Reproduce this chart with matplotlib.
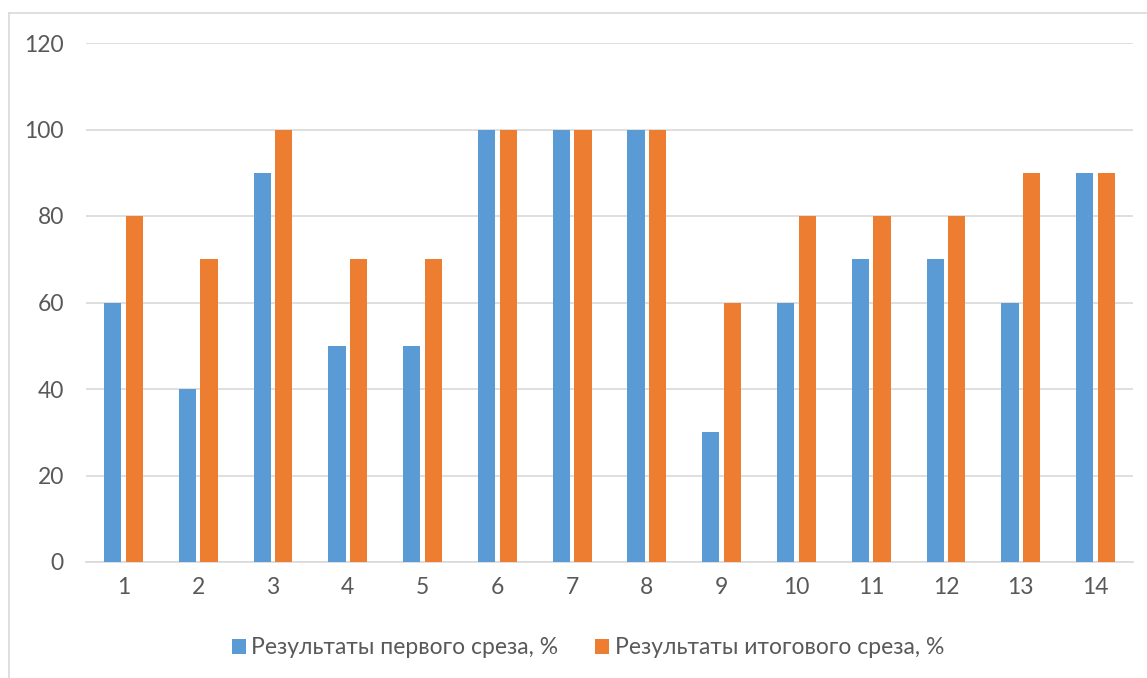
import matplotlib
matplotlib.use("Agg")
import matplotlib.pyplot as plt
import numpy as np
from matplotlib.lines import Line2D

categories = ["1", "2", "3", "4", "5", "6", "7", "8", "9", "10", "11", "12", "13", "14"]
first_cut = [60, 40, 90, 50, 50, 100, 100, 100, 30, 60, 70, 70, 60, 90]
final_cut = [80, 70, 100, 70, 70, 100, 100, 100, 60, 80, 80, 80, 90, 90]
series_names = ["Результаты первого среза, %", "Результаты итогового среза, %"]
yticks = [0, 20, 40, 60, 80, 100, 120]

plt.rcParams['font.family'] = ['Lato', 'DejaVu Sans']
text_color = "#595959"

fig = plt.figure(figsize=(11.47, 6.78), dpi=100)
W, H = 1147, 678
ax = fig.add_axes([86 / W, 1 - 562 / H, (1133 - 86) / W, (562 - 43) / H])

x = np.arange(len(categories))
bw = 0.23
off = 0.145
b1 = ax.bar(x - off, first_cut, bw, color="#5B9BD5", label=series_names[0], zorder=3)
b2 = ax.bar(x + off, final_cut, bw, color="#ED7D31", label=series_names[1], zorder=3)

ax.set_xlim(-0.5, len(categories) - 0.5)
ax.set_ylim(0, 120)
ax.set_yticks(yticks)
ax.set_xticks(x)
ax.set_xticklabels(categories)
ax.yaxis.grid(True, color="#D9D9D9", linewidth=1.2, zorder=0)
for s in ["top", "right", "left"]:
    ax.spines[s].set_visible(False)
ax.spines["bottom"].set_color("#D9D9D9")
ax.spines["bottom"].set_linewidth(1.2)
ax.tick_params(axis="both", length=0, colors=text_color, labelsize=16.5)
ax.tick_params(axis="y", pad=16)
ax.tick_params(axis="x", pad=11)

fig.legend(handles=[b1, b2], labels=series_names, loc="center",
           bbox_to_anchor=(588 / W, 1 - 648 / H), ncol=2, frameon=False,
           fontsize=16.5, labelcolor=text_color, handlelength=0.6, handleheight=0.6,
           handletextpad=0.25, columnspacing=1.6)

# chart border (top and left visible)
fig.add_artist(Line2D([9 / W, 9 / W], [1 - 13 / H, 0], transform=fig.transFigure,
                      color="#D9D9D9", linewidth=1.2))
fig.add_artist(Line2D([9 / W, 1], [1 - 13 / H, 1 - 13 / H], transform=fig.transFigure,
                      color="#D9D9D9", linewidth=1.2))

fig.savefig("out.png", dpi=100)
